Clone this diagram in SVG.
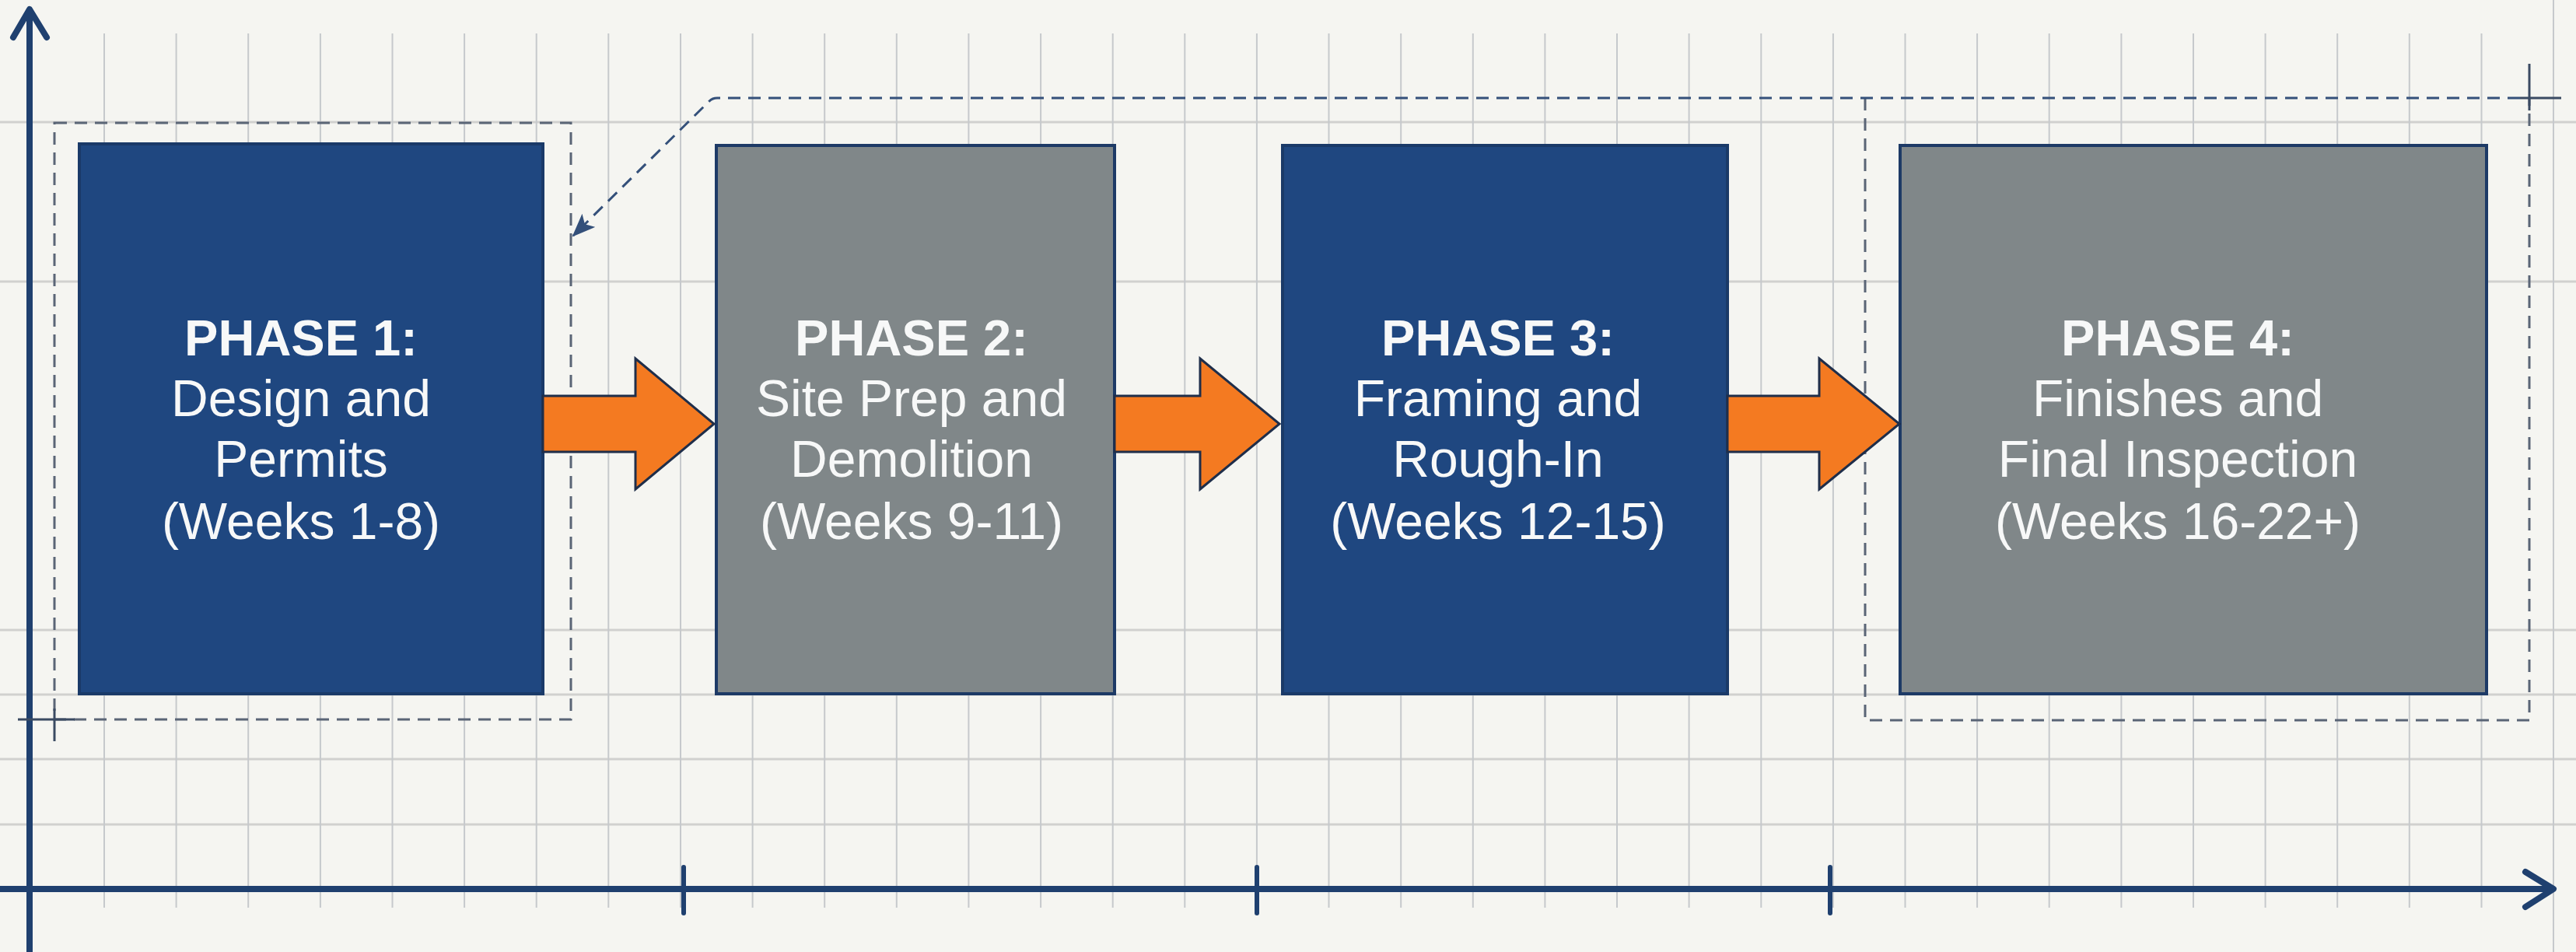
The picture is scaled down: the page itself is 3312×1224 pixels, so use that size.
<svg xmlns="http://www.w3.org/2000/svg" width="3312" height="1224" viewBox="0 0 3312 1224">
  <defs>
    <style>
      .grid-v { stroke: #c6c9cc; stroke-width: 2; }
      .grid-h { stroke: #d1d1cf; stroke-width: 3; }
      .axis { stroke: #1f406f; stroke-width: 8; fill: none; }
      .axis-head { stroke: #1f406f; stroke-width: 8; fill: none; stroke-linecap: round; stroke-linejoin: round; }
      .tick { stroke: #1f406f; stroke-width: 6; stroke-linecap: round; }
      .frame { stroke: #5a6576; stroke-width: 3; fill: none; stroke-dasharray: 16 10; }
      .cross { stroke: #3a4a62; stroke-width: 3; }
      .link { stroke: #34507a; stroke-width: 3; fill: none; stroke-dasharray: 16 10; }
      .box-blue { fill: #1f4780; stroke: #1a3a68; stroke-width: 4; }
      .box-grey { fill: #808789; stroke: #1d3a66; stroke-width: 4; }
      .flow { fill: #f47a21; stroke: #1f2e4a; stroke-width: 3; stroke-linejoin: miter; }
      .label { font-family: "Liberation Sans", Arial, sans-serif; font-size: 66px; fill: #f7f8f8; text-anchor: middle; }
      .label .head { font-weight: bold; font-size: 65px; }
    </style>
    <marker id="link-tip" viewBox="0 0 30 24" refX="28" refY="12" markerWidth="30" markerHeight="24" markerUnits="userSpaceOnUse" orient="auto">
      <path d="M0,0 L30,12 L0,24 L7,12 Z" fill="#34507a"/>
    </marker>
  </defs>

  <!-- paper -->
  <rect width="3312" height="1224" fill="#f5f5f1"/>

  <!-- grid -->
  <g id="grid">
    <g class="grid-h">
      <line x1="0" y1="157" x2="3312" y2="157"/>
      <line x1="0" y1="362" x2="3312" y2="362"/>
      <line x1="0" y1="810" x2="3312" y2="810"/>
      <line x1="0" y1="893" x2="3312" y2="893"/>
      <line x1="0" y1="976" x2="3312" y2="976"/>
      <line x1="0" y1="1060" x2="3312" y2="1060"/>
    </g>
    <g class="grid-v">
      <line x1="134" y1="43" x2="134" y2="1167"/>
      <line x1="226.6" y1="43" x2="226.6" y2="1167"/>
      <line x1="319.2" y1="43" x2="319.2" y2="1167"/>
      <line x1="411.9" y1="43" x2="411.9" y2="1167"/>
      <line x1="504.5" y1="43" x2="504.5" y2="1167"/>
      <line x1="597.1" y1="43" x2="597.1" y2="1167"/>
      <line x1="689.7" y1="43" x2="689.7" y2="1167"/>
      <line x1="782.3" y1="43" x2="782.3" y2="1167"/>
      <line x1="875" y1="43" x2="875" y2="1167"/>
      <line x1="967.6" y1="43" x2="967.6" y2="1167"/>
      <line x1="1060.2" y1="43" x2="1060.2" y2="1167"/>
      <line x1="1152.8" y1="43" x2="1152.8" y2="1167"/>
      <line x1="1245.4" y1="43" x2="1245.4" y2="1167"/>
      <line x1="1338.1" y1="43" x2="1338.1" y2="1167"/>
      <line x1="1430.7" y1="43" x2="1430.7" y2="1167"/>
      <line x1="1523.3" y1="43" x2="1523.3" y2="1167"/>
      <line x1="1615.9" y1="43" x2="1615.9" y2="1167"/>
      <line x1="1708.5" y1="43" x2="1708.5" y2="1167"/>
      <line x1="1801.2" y1="43" x2="1801.2" y2="1167"/>
      <line x1="1893.8" y1="43" x2="1893.8" y2="1167"/>
      <line x1="1986.4" y1="43" x2="1986.4" y2="1167"/>
      <line x1="2079" y1="43" x2="2079" y2="1167"/>
      <line x1="2171.6" y1="43" x2="2171.6" y2="1167"/>
      <line x1="2264.3" y1="43" x2="2264.3" y2="1167"/>
      <line x1="2356.9" y1="43" x2="2356.9" y2="1167"/>
      <line x1="2449.5" y1="43" x2="2449.5" y2="1167"/>
      <line x1="2542.1" y1="43" x2="2542.1" y2="1167"/>
      <line x1="2634.7" y1="43" x2="2634.7" y2="1167"/>
      <line x1="2727.4" y1="43" x2="2727.4" y2="1167"/>
      <line x1="2820" y1="43" x2="2820" y2="1167"/>
      <line x1="2912.6" y1="43" x2="2912.6" y2="1167"/>
      <line x1="3005.2" y1="43" x2="3005.2" y2="1167"/>
      <line x1="3097.8" y1="43" x2="3097.8" y2="1167"/>
      <line x1="3190.5" y1="43" x2="3190.5" y2="1167"/>
      <line x1="3283" y1="0" x2="3283" y2="1224"/>
    </g>
  </g>

  <!-- axes -->
  <g id="axes">
    <line class="axis" x1="38" y1="1224" x2="38" y2="14"/>
    <polyline class="axis-head" points="17,48 38,12 60,48"/>
    <line class="axis" x1="0" y1="1143" x2="3280" y2="1143"/>
    <polyline class="axis-head" points="3247,1121 3283,1143 3247,1166"/>
    <line class="tick" x1="879" y1="1115" x2="879" y2="1174"/>
    <line class="tick" x1="1616" y1="1115" x2="1616" y2="1174"/>
    <line class="tick" x1="2353" y1="1115" x2="2353" y2="1174"/>
  </g>

  <!-- dashed frames with registration crosses -->
  <g id="frames">
    <rect class="frame" x="70" y="158" width="664" height="767"/>
    <line class="cross" x1="23" y1="925" x2="96" y2="925"/>
    <line class="cross" x1="70" y1="911" x2="70" y2="953"/>
    <path class="frame" d="M2398,126 L2398,926 L3252,926 L3252,126"/>
    <line class="cross" x1="3240" y1="126" x2="3293" y2="126"/>
    <line class="cross" x1="3252" y1="82" x2="3252" y2="142"/>
  </g>

  <!-- phase nodes -->
  <g id="phase-1">
    <rect class="box-blue" x="102" y="185" width="596" height="707"/>
    <text class="label"><tspan class="head" x="387" y="457">PHASE 1:</tspan><tspan x="387" y="535">Design and</tspan><tspan x="387" y="613">Permits</tspan><tspan x="387" y="693">(Weeks 1-8)</tspan></text>
  </g>
  <g id="phase-2">
    <rect class="box-grey" x="921" y="187" width="512" height="705"/>
    <text class="label"><tspan class="head" x="1172" y="457">PHASE 2:</tspan><tspan x="1172" y="535">Site Prep and</tspan><tspan x="1172" y="613">Demolition</tspan><tspan x="1172" y="693">(Weeks 9-11)</tspan></text>
  </g>
  <g id="phase-3">
    <rect class="box-blue" x="1649" y="187" width="572" height="705"/>
    <text class="label"><tspan class="head" x="1926" y="457">PHASE 3:</tspan><tspan x="1926" y="535">Framing and</tspan><tspan x="1926" y="613">Rough-In</tspan><tspan x="1926" y="693">(Weeks 12-15)</tspan></text>
  </g>
  <g id="phase-4">
    <rect class="box-grey" x="2443" y="187" width="754" height="705"/>
    <text class="label"><tspan class="head" x="2800" y="457">PHASE 4:</tspan><tspan x="2800" y="535">Finishes and</tspan><tspan x="2800" y="613">Final Inspection</tspan><tspan x="2800" y="693">(Weeks 16-22+)</tspan></text>
  </g>

  <!-- connectors: dashed return link and the block flow arrows between phases -->
  <g id="connectors">
    <path class="link" d="M3240,126 L922,126 Q916,126 912,130 L737,303" marker-end="url(#link-tip)"/>
    <polygon class="flow" points="698,509 817,509 817,461 918,545 817,629 817,581 698,581"/>
    <polygon class="flow" points="1433,509 1543,509 1543,461 1645,545 1543,629 1543,581 1433,581"/>
    <polygon class="flow" points="2221,509 2339,509 2339,461 2442,545 2339,629 2339,581 2221,581"/>
  </g>
</svg>
